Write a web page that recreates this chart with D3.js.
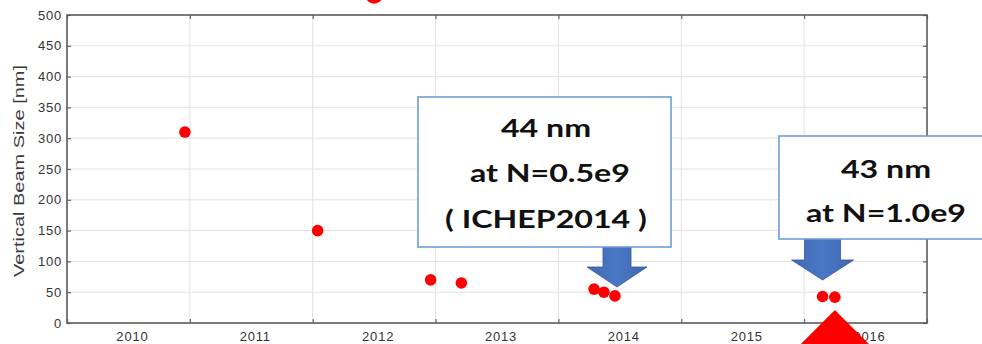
<!DOCTYPE html>
<html>
<head>
<meta charset="utf-8">
<script src="https://cdn.jsdelivr.net/npm/d3@7/dist/d3.min.js"></script>
<style>
  html, body { margin: 0; padding: 0; background: #fff; }
  svg { display: block; }
</style>
</head>
<body>
<svg id="chart" width="982" height="344"></svg>
<script>
// Vertical beam size measurements by date
const measureDates = [2010.96, 2012.04, 2012.96, 2013.21, 2014.29, 2014.37, 2014.46, 2016.15, 2016.25];
const beamSizes    = [310, 150, 70, 65, 55, 50, 44, 43, 42];

// Early measurement above the axis range
const offscaleDate = [2012.5];
const offscaleSize = [532];

// Axis ticks
const yearTicks  = [2010, 2011, 2012, 2013, 2014, 2015, 2016, 2017];
const yearLabels = ["2010", "2011", "2012", "2013", "2014", "2015", "2016"];
const sizeTicks  = [0, 50, 100, 150, 200, 250, 300, 350, 400, 450, 500];

// Callout texts
const callout1Lines = ["44 nm", " at N=0.5e9", "( ICHEP2014 )"];
const callout2Lines = ["43 nm", "at N=1.0e9"];

const svg = d3.select("#chart");
const plotL = 67, plotR = 927, plotT = 15, plotB = 323;

const x = d3.scaleLinear().domain([2010, 2017]).range([plotL, plotR]);
const y = d3.scaleLinear().domain([0, 500]).range([plotB, plotT]);

// Grid
svg.append("g").selectAll("line").data(sizeTicks.slice(1, -1)).join("line")
  .attr("x1", plotL).attr("x2", plotR)
  .attr("y1", d => y(d)).attr("y2", d => y(d))
  .attr("stroke", "#e2e2e2").attr("stroke-width", 1);
svg.append("g").selectAll("line").data(yearTicks.slice(1, -1)).join("line")
  .attr("x1", d => x(d)).attr("x2", d => x(d))
  .attr("y1", plotT).attr("y2", plotB)
  .attr("stroke", "#e2e2e2").attr("stroke-width", 1);

// Axes with inward ticks
const axisStyle = g => {
  g.select(".domain").remove();
  g.selectAll(".tick line").attr("stroke", "#666").attr("stroke-width", 1.2);
  g.selectAll(".tick text").attr("fill", "#333")
    .style("font-family", "'Liberation Sans', Arial, sans-serif")
    .style("font-size", "13px");
};

svg.append("g").attr("transform", `translate(0,${plotB})`)
  .call(d3.axisBottom(x).tickValues(yearTicks).tickSizeInner(-4).tickSizeOuter(0).tickFormat(""))
  .call(axisStyle);
svg.append("g").attr("transform", `translate(0,${plotT})`)
  .call(d3.axisTop(x).tickValues(yearTicks).tickSizeInner(-4).tickSizeOuter(0).tickFormat(""))
  .call(axisStyle);
svg.append("g").attr("transform", `translate(${plotL},0)`)
  .call(d3.axisLeft(y).tickValues(sizeTicks).tickSizeInner(-4).tickSizeOuter(0).tickPadding(5))
  .call(axisStyle)
  .call(g => g.selectAll(".tick text").style("letter-spacing", "0.8px"));
svg.append("g").attr("transform", `translate(${plotR},0)`)
  .call(d3.axisRight(y).tickValues(sizeTicks).tickSizeInner(-4).tickSizeOuter(0).tickFormat(""))
  .call(axisStyle);

// Year labels centred in each year
svg.append("g").selectAll("text").data(yearLabels).join("text")
  .attr("x", d => x(+d + 0.5) + 4).attr("y", 341)
  .attr("text-anchor", "middle").attr("fill", "#333")
  .style("font-family", "'Liberation Sans', Arial, sans-serif")
  .style("font-size", "13px").style("letter-spacing", "0.8px")
  .text(d => d);

// Frame
svg.append("rect")
  .attr("x", plotL).attr("y", plotT)
  .attr("width", plotR - plotL).attr("height", plotB - plotT)
  .attr("fill", "none").attr("stroke", "#5a5a5a").attr("stroke-width", 1.6);

// Y axis title
svg.append("text")
  .attr("transform", `translate(24,${(65 + 277) / 2}) rotate(-90)`)
  .attr("text-anchor", "middle").attr("fill", "#3a3a3a")
  .attr("textLength", 212).attr("lengthAdjust", "spacingAndGlyphs")
  .style("font-family", "'Liberation Sans', Arial, sans-serif")
  .style("font-size", "15px")
  .text("Vertical Beam Size [nm]");

// Data points
svg.append("g").selectAll("circle").data(measureDates.map((d, i) => [d, beamSizes[i]])).join("circle")
  .attr("cx", d => x(d[0])).attr("cy", d => y(d[1])).attr("r", 5.8)
  .attr("fill", "#ff0000");
svg.append("g").selectAll("circle").data(offscaleDate.map((d, i) => [d, offscaleSize[i]])).join("circle")
  .attr("cx", d => x(d[0])).attr("cy", d => y(d[1])).attr("r", 8.5)
  .attr("fill", "#ff0000");

// Red marker below the 2016 points
{
  const cx = x(measureDates[8]);
  const apex = 310;
  svg.append("path")
    .attr("d", `M${cx},${apex} L${cx + 60},${apex + 60} L${cx - 60},${apex + 60} Z`)
    .attr("fill", "#ff0000");
}

// Callouts: box + block arrow pointing at a measurement
const defs = svg.append("defs");
const grad = defs.append("linearGradient").attr("id", "arrowFill")
  .attr("x1", 0).attr("x2", 1).attr("y1", 0).attr("y2", 0);
grad.append("stop").attr("offset", "0%").attr("stop-color", "#3f69b3");
grad.append("stop").attr("offset", "50%").attr("stop-color", "#4a78c6");
grad.append("stop").attr("offset", "100%").attr("stop-color", "#3d66ae");

function blockArrow(cx, y0, tip, shaftHalf, headHalf, headLen) {
  const yh = tip - headLen;
  svg.append("path")
    .attr("d", `M${cx - shaftHalf},${y0} L${cx + shaftHalf},${y0} L${cx + shaftHalf},${yh}
                L${cx + headHalf},${yh} L${cx},${tip} L${cx - headHalf},${yh}
                L${cx - shaftHalf},${yh} Z`)
    .attr("fill", "url(#arrowFill)").attr("stroke", "#35599a").attr("stroke-width", 0.8);
}

function callout(box, lines, baselines, cx) {
  svg.append("rect")
    .attr("x", box[0]).attr("y", box[1]).attr("width", box[2]).attr("height", box[3])
    .attr("fill", "#fff").attr("stroke", "#6e9ed6").attr("stroke-width", 1.6);
  // wide bold lettering: stretched horizontally about the text centre
  svg.append("g").attr("transform", `translate(${cx},0) scale(1.34,1)`)
    .selectAll("text").data(lines).join("text")
    .attr("x", 0).attr("y", (d, i) => baselines[i])
    .attr("text-anchor", "middle").attr("fill", "#111")
    .style("font-family", "Lato, 'Open Sans', sans-serif")
    .style("font-weight", "700").style("font-size", "24px")
    .style("white-space", "pre")
    .text(d => d);
}

// 2014 callout
blockArrow(617, 247, 287, 14, 30, 20);
callout([418, 97, 253, 150], callout1Lines, [137, 182, 228], 546);

// 2016 callout
blockArrow(x(measureDates[7]), 239, 280, 18, 31, 20);
callout([779, 136, 215, 103], callout2Lines, [178, 222], 886);
</script>
</body>
</html>
